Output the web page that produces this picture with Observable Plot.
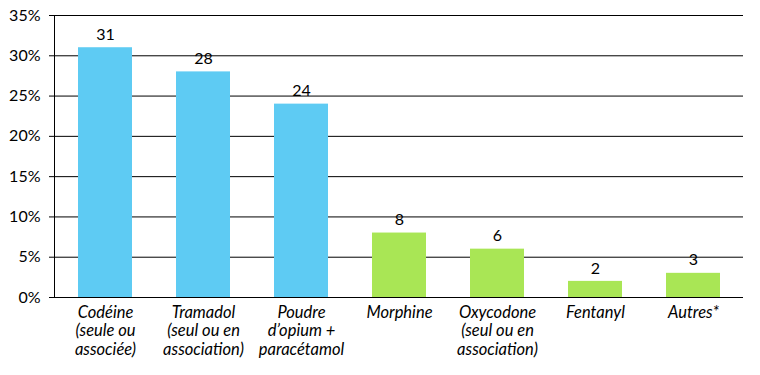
<!DOCTYPE html>
<html>
<head>
<meta charset="utf-8">
<script src="https://cdn.jsdelivr.net/npm/d3@7"></script>
<script src="https://cdn.jsdelivr.net/npm/@observablehq/plot@0.6"></script>
<style>
  html, body { margin: 0; padding: 0; background: #fff; }
  svg { font-family: "Lato", "Open Sans", sans-serif; }
  [aria-label="x-axis tick label"] text { font-style: italic; }
</style>
</head>
<body>
<div id="chart"></div>
<script>
const categories = ["Codéine", "Tramadol", "Poudre d'opium", "Morphine", "Oxycodone", "Fentanyl", "Autres"];
const labels = [
  "Codéine\n(seule ou\nassociée)",
  "Tramadol\n(seul ou en\nassociation)",
  "Poudre\nd’opium +\nparacétamol",
  "Morphine",
  "Oxycodone\n(seul ou en\nassociation)",
  "Fentanyl",
  "Autres*"
];
const values = [31, 28, 24, 8, 6, 2, 3];
const groups = ["a", "a", "a", "b", "b", "b", "b"];
const yTicks = [0, 5, 10, 15, 20, 25, 30, 35];

const data = categories.map((c, i) => ({cat: c, value: values[i], group: groups[i]}));
const labelOf = new Map(categories.map((c, i) => [c, labels[i]]));

const chart = Plot.plot({
  width: 760,
  height: 375,
  marginLeft: 54,
  marginRight: 17,
  marginTop: 15,
  marginBottom: 78,
  style: {fontSize: "16px", color: "#000", background: "#fff"},
  x: {domain: categories, paddingInner: 0.45, paddingOuter: 0.23, label: null},
  y: {domain: [0, 35], label: null},
  color: {domain: ["a", "b"], range: ["#5ECBF3", "#A9E655"]},
  marks: [
    Plot.gridY(yTicks, {stroke: "#000", strokeOpacity: 1, strokeWidth: 1}),
    Plot.barY(data, {x: "cat", y: "value", fill: "group"}),
    Plot.text(data, {x: "cat", y: "value", text: d => String(d.value), dy: -13, fontSize: 16, fill: "#000"}),
    Plot.frame({anchor: "left", stroke: "#000"}),
    Plot.axisY(yTicks, {tickSize: 5, tickPadding: 9, tickFormat: d => d + "%", fontSize: 16, stroke: "#000"}),
    Plot.ruleY([0], {stroke: "#000"}),
    Plot.axisX({tickSize: 0, tickPadding: 7, tickFormat: d => labelOf.get(d), lineHeight: 1.12, fontSize: 16.5})
  ]
});
document.getElementById("chart").appendChild(chart);
</script>
</body>
</html>
